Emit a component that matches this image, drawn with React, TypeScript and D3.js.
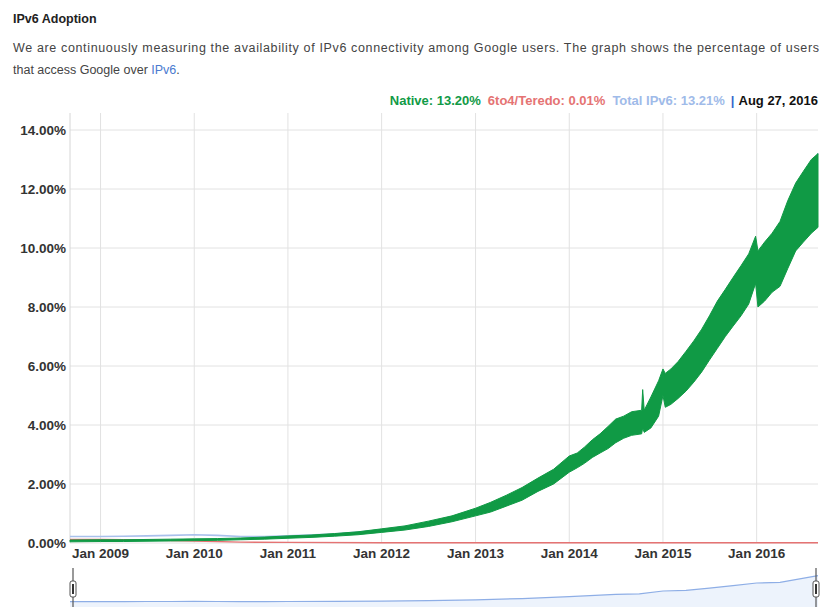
import React from 'react';
import * as d3 from 'd3';

// Native IPv6 band (weekday low / weekend high), percent
const nativeDates = [
  '2008-09-04', '2009-01-01', '2009-04-01', '2009-07-01', '2009-10-01', '2010-01-01',
  '2010-04-01', '2010-07-01', '2010-10-01', '2011-01-01', '2011-04-01', '2011-07-01',
  '2011-10-01', '2012-01-01', '2012-04-01', '2012-07-01', '2012-10-01', '2013-01-01',
  '2013-03-01', '2013-05-01', '2013-07-01', '2013-09-01', '2013-11-01', '2014-01-01',
  '2014-02-01', '2014-03-01', '2014-04-01', '2014-05-01', '2014-06-01', '2014-07-01',
  '2014-08-01', '2014-09-01', '2014-10-10', '2014-10-14', '2014-10-20', '2014-11-15',
  '2014-12-15', '2015-01-01', '2015-01-10', '2015-02-01', '2015-03-01', '2015-04-01',
  '2015-05-01', '2015-06-01', '2015-07-01', '2015-08-01', '2015-09-01', '2015-10-01',
  '2015-11-01', '2015-12-01', '2015-12-28', '2016-01-06', '2016-02-01', '2016-03-01',
  '2016-04-01', '2016-05-01', '2016-06-01', '2016-07-01', '2016-08-01', '2016-08-27',
];
const nativeLow = [
  0.04, 0.05, 0.05, 0.06, 0.07, 0.08,
  0.09, 0.11, 0.13, 0.16, 0.19, 0.23,
  0.28, 0.36, 0.44, 0.56, 0.72, 0.92,
  1.05, 1.25, 1.45, 1.75, 2.0, 2.4,
  2.55, 2.7, 2.9, 3.05, 3.2, 3.4,
  3.55, 3.65, 3.7, 3.9, 3.75, 3.9,
  4.3, 5.0, 4.6, 4.7, 4.9, 5.15,
  5.45, 5.8, 6.2, 6.6, 7.0, 7.35,
  7.7, 8.1, 8.8, 8.0, 8.2, 8.5,
  8.7, 9.3, 9.9, 10.2, 10.5, 10.7,
];
const nativeHigh = [
  0.10, 0.11, 0.11, 0.12, 0.13, 0.14,
  0.15, 0.17, 0.20, 0.24, 0.27, 0.32,
  0.38, 0.48, 0.58, 0.74, 0.92, 1.18,
  1.38, 1.62, 1.88, 2.2, 2.5, 2.95,
  3.05, 3.25, 3.5, 3.7, 3.95, 4.2,
  4.3, 4.45, 4.5, 5.2, 4.5, 4.95,
  5.5, 5.9, 5.75, 5.9, 6.15, 6.5,
  6.85, 7.25, 7.7, 8.2, 8.6, 9.0,
  9.4, 9.8, 10.4, 9.9, 10.2, 10.5,
  10.9, 11.6, 12.2, 12.6, 13.0, 13.2,
];

// 6to4/Teredo, percent
const relayDates = ['2008-09-04', '2009-01-01', '2009-07-01', '2010-01-01', '2010-07-01', '2011-01-01', '2012-01-01', '2016-08-27'];
const relayValues = [0.12, 0.12, 0.1, 0.07, 0.03, 0.02, 0.01, 0.01];

// Total IPv6, percent
const totalDates = [
  '2008-09-04', '2009-01-01', '2009-04-01', '2009-07-01', '2009-10-01', '2010-01-01',
  '2010-04-01', '2010-07-01', '2010-10-01', '2011-01-01', '2011-07-01', '2012-01-01',
  '2012-07-01', '2013-01-01', '2013-07-01', '2014-01-01', '2014-07-01', '2014-10-01',
  '2015-01-01', '2015-04-01', '2015-07-01', '2015-10-01', '2016-01-01', '2016-04-01',
  '2016-08-27',
];
const totalValues = [
  0.22, 0.22, 0.23, 0.24, 0.26, 0.28,
  0.26, 0.22, 0.22, 0.24, 0.30, 0.44,
  0.68, 1.08, 1.72, 2.65, 3.8, 4.1,
  5.5, 5.8, 6.9, 8.2, 9.5, 9.8,
  13.21,
];

const yTicks = [0, 2, 4, 6, 8, 10, 12, 14];
const xTickYears = [2009, 2010, 2011, 2012, 2013, 2014, 2015, 2016];

const W = 823;
const H = 607;
const plot = { left: 70, right: 818, top: 113, bottom: 543 };
const FONT = 'Arial, "Liberation Sans", sans-serif';

export default function App() {
  const parse = d3.timeParse('%Y-%m-%d');

  const x = d3.scaleTime()
    .domain([parse('2008-09-04')!, parse('2016-08-27')!])
    .range([plot.left, plot.right]);

  const y = d3.scaleLinear()
    .domain([0, 14])
    .range([plot.bottom, plot.bottom - 7 * 59]);

  const yNav = d3.scaleLinear().domain([0, 16.5]).range([602, 569]);

  const nativeData = nativeDates.map((d, i) => ({ date: parse(d)!, lo: nativeLow[i], hi: nativeHigh[i] }));
  const relayData = relayDates.map((d, i) => ({ date: parse(d)!, v: relayValues[i] }));
  const totalData = totalDates.map((d, i) => ({ date: parse(d)!, v: totalValues[i] }));

  const band = d3.area<{ date: Date; lo: number; hi: number }>()
    .x(d => x(d.date))
    .y0(d => y(d.lo))
    .y1(d => y(d.hi));

  const line = d3.line<{ date: Date; v: number }>()
    .x(d => x(d.date))
    .y(d => y(d.v));

  const navLine = d3.line<{ date: Date; v: number }>()
    .x(d => x(d.date))
    .y(d => yNav(d.v));

  const navArea = d3.area<{ date: Date; v: number }>()
    .x(d => x(d.date))
    .y0(612)
    .y1(d => yNav(d.v));

  const fmt = d3.format('.2f');

  return (
    <svg width={W} height={H} style={{ position: 'absolute', left: 0, top: 0, background: '#fff' }}
      fontFamily={FONT}>
      {/* header */}
      <text x={13} y={23} fontSize={12.5} fontWeight="bold" fill="#222">IPv6 Adoption</text>
      <text x={13} y={52} fontSize={12.5} fill="#444" textLength={806} lengthAdjust="spacing">
        We are continuously measuring the availability of IPv6 connectivity among Google users. The graph shows the percentage of users
      </text>
      <text x={13} y={74} fontSize={12.5} fill="#444">
        that access Google over <tspan fill="#4a7bd0">IPv6</tspan>.
      </text>

      {/* legend */}
      <text x={plot.right} y={105} fontSize={13} fontWeight="bold" textAnchor="end">
        <tspan fill="#119a46">Native: 13.20%</tspan>
        <tspan fill="#e57373" dx={7}>6to4/Teredo: 0.01%</tspan>
        <tspan fill="#9fbbe9" dx={7}>Total IPv6: 13.21%</tspan>
        <tspan fill="#3366cc" dx={6}>|</tspan>
        <tspan fill="#111" dx={4}>Aug 27, 2016</tspan>
      </text>

      {/* grid */}
      {yTicks.map(t => (
        <line key={'h' + t} x1={plot.left} x2={plot.right} y1={y(t)} y2={y(t)} stroke="#e2e2e2" />
      ))}
      {xTickYears.map(yr => {
        const px = x(new Date(yr, 0, 1));
        return <line key={'v' + yr} x1={px} x2={px} y1={plot.top} y2={plot.bottom} stroke="#e2e2e2" />;
      })}
      <line x1={plot.left} x2={plot.left} y1={plot.top} y2={plot.bottom} stroke="#d6d6d6" />

      {/* series */}
      <path d={line(totalData)!} fill="none" stroke="#a9c1ec" strokeWidth={1.6} />
      <path d={line(relayData)!} fill="none" stroke="#e57373" strokeWidth={1.4} />
      <path d={band(nativeData)!} fill="#109a45" stroke="#109a45" strokeWidth={1} strokeLinejoin="round" />

      {/* y axis labels */}
      {yTicks.map(t => (
        <text key={'yl' + t} x={66} y={y(t) + 5} fontSize={13.5} fontWeight="bold" fill="#333" textAnchor="end">
          {fmt(t)}%
        </text>
      ))}

      {/* x axis labels */}
      {xTickYears.map(yr => (
        <text key={'xl' + yr} x={x(new Date(yr, 0, 1))} y={558} fontSize={13.5} fontWeight="bold" fill="#333" textAnchor="middle">
          Jan {yr}
        </text>
      ))}

      {/* navigator */}
      <path d={navArea(totalData)!} fill="#edf3fc" />
      <path d={navLine(totalData)!} fill="none" stroke="#8eaee6" strokeWidth={1.2} />
      {[plot.left + 3, plot.right - 2].map((hx, i) => (
        <g key={'hd' + i}>
          <line x1={hx} x2={hx} y1={568} y2={607} stroke="#555" strokeWidth={1.2} />
          <rect x={hx - 3} y={581} width={6} height={16} rx={2} fill="#fff" stroke="#555" strokeWidth={1} />
          <rect x={hx - 1} y={584} width={2} height={10} fill="#333" />
        </g>
      ))}
    </svg>
  );
}
